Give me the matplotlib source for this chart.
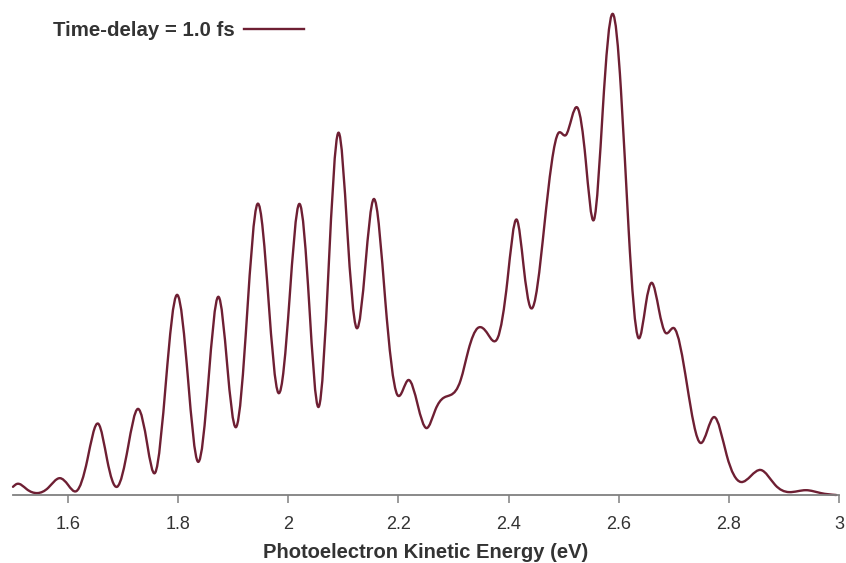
import numpy as np
import matplotlib
matplotlib.use("Agg")
import matplotlib.pyplot as plt
from matplotlib.path import Path
from matplotlib.patches import PathPatch
from matplotlib.lines import Line2D

plt.rcParams['font.family'] = ['Liberation Sans', 'DejaVu Sans']

# Photoelectron kinetic energy (eV) and intensity (% of max)
energy = [1.500, 1.507, 1.525, 1.544, 1.564, 1.585, 1.600, 1.615, 1.635, 1.655,
          1.671, 1.689, 1.709, 1.727, 1.744, 1.758, 1.778, 1.798, 1.818, 1.836,
          1.855, 1.873, 1.889, 1.905, 1.925, 1.944, 1.964, 1.982, 2.002, 2.020,
          2.038, 2.055, 2.073, 2.091, 2.107, 2.124, 2.140, 2.155, 2.176, 2.198,
          2.218, 2.235, 2.251, 2.267, 2.282, 2.295, 2.313, 2.327, 2.344, 2.362,
          2.380, 2.398, 2.415, 2.427, 2.440, 2.465, 2.491, 2.504, 2.525, 2.540,
          2.555, 2.571, 2.589, 2.604, 2.618, 2.636, 2.649, 2.660, 2.673, 2.685,
          2.700, 2.724, 2.749, 2.773, 2.796, 2.822, 2.858, 2.884, 2.909, 2.940,
          2.967, 2.995]
intensity = [1.7, 2.3, 1.2, 0.4, 1.5, 3.5, 2.1, 0.8, 7.3, 14.8,
             7.3, 1.7, 10.0, 17.9, 10.4, 4.6, 23.9, 41.6, 23.9, 6.9,
             23.9, 41.2, 27.0, 14.1, 37.4, 60.5, 40.5, 21.2, 40.5, 60.5,
             39.5, 18.3, 46.8, 75.3, 55.1, 34.7, 47.8, 61.5, 40.5, 20.8,
             23.9, 18.7, 13.9, 17.7, 20.2, 20.8, 23.9, 30.1, 34.7, 33.5,
             32.6, 44.7, 57.2, 47.8, 38.9, 56.1, 75.3, 74.8, 80.5, 69.6,
             57.2, 80.0, 100.0, 84.2, 55.1, 32.6, 39.5, 44.1, 38.5, 33.7,
             34.7, 22.9, 10.8, 16.2, 8.3, 2.7, 5.2, 2.1, 0.6, 1.0,
             0.4, 0.0]
x_ticks = [1.6, 1.8, 2.0, 2.2, 2.4, 2.6, 2.8, 3.0]
x_tick_labels = ["1.6", "1.8", "2", "2.2", "2.4", "2.6", "2.8", "3"]
series_label = "Time-delay = 1.0 fs"

line_color = '#6e1f33'

fig = plt.figure(figsize=(8.46, 5.63), dpi=100)
ax = fig.add_axes([13/846, 68/563, (839-13)/846, (563-68-9)/563])

# Smooth curve through the read points: natural cubic spline knots
# rendered exactly as a cubic Bezier path.
x = np.asarray(energy, float)
y = np.asarray(intensity, float)
n = len(x)
h = np.diff(x)
d = np.diff(y) / h
A = np.zeros((n, n))
r = np.zeros(n)
A[0, 0] = 1.0
A[-1, -1] = 1.0
for i in range(1, n - 1):
    A[i, i - 1] = h[i - 1]
    A[i, i] = 2 * (h[i - 1] + h[i])
    A[i, i + 1] = h[i]
    r[i] = 6 * (d[i] - d[i - 1])
M = np.linalg.solve(A, r)
m = np.empty(n)
m[:-1] = d - h * (2 * M[:-1] + M[1:]) / 6
m[-1] = d[-1] + h[-1] * (M[-2] + 2 * M[-1]) / 6
verts = [(x[0], y[0])]
codes = [Path.MOVETO]
for i in range(n - 1):
    verts += [(x[i] + h[i] / 3, y[i] + m[i] * h[i] / 3),
              (x[i + 1] - h[i] / 3, y[i + 1] - m[i + 1] * h[i] / 3),
              (x[i + 1], y[i + 1])]
    codes += [Path.CURVE4] * 3
patch = PathPatch(Path(verts, codes), facecolor='none', edgecolor=line_color,
                  lw=1.7, transform=ax.transData, clip_on=False, capstyle='round',
                  joinstyle='round')
ax.add_patch(patch)

ax.set_xlim(1.5, 3.0)
ax.set_ylim(0, 101)

for s in ['top', 'right', 'left']:
    ax.spines[s].set_visible(False)
ax.spines['bottom'].set_color('#808080')
ax.spines['bottom'].set_linewidth(1.3)
ax.set_yticks([])
ax.set_xticks(x_ticks)
ax.set_xticklabels(x_tick_labels)
ax.tick_params(axis='x', direction='out', length=6, width=1.2, color='#8a8a8a',
               labelsize=13, labelcolor='#333333', pad=9)
ax.set_xlabel("Photoelectron Kinetic Energy (eV)", fontsize=14.5, fontweight='bold',
              color='#333333', labelpad=7)

handle = Line2D([], [], color=line_color, lw=1.7)
leg = fig.legend([handle], [series_label], loc='center left',
                 bbox_to_anchor=(35/846, 1 - 31/563), frameon=False,
                 markerfirst=False, handlelength=2.9, handletextpad=0.45,
                 prop={'size': 14.7, 'weight': 'bold'})
for t in leg.get_texts():
    t.set_color('#333333')

fig.savefig("out.png", dpi=100)
